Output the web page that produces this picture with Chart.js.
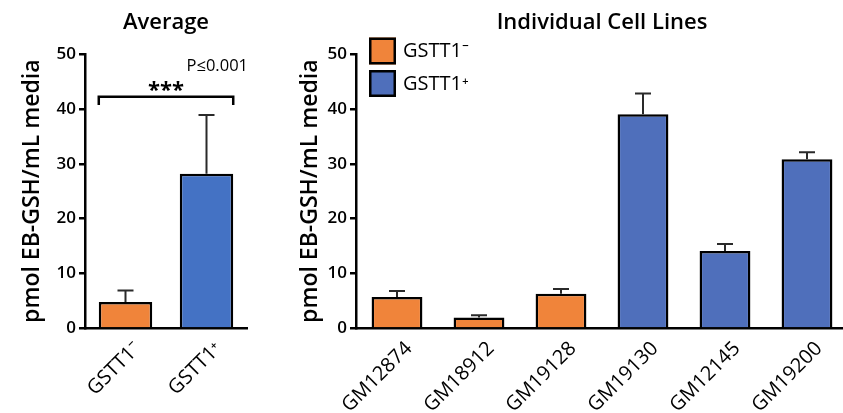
<!DOCTYPE html>
<html>
<head>
<meta charset="utf-8">
<script src="https://cdn.jsdelivr.net/npm/chart.js@4.4.1/dist/chart.umd.min.js"></script>
<style>
  html, body { margin: 0; padding: 0; background: #fff; }
  body { width: 843px; height: 413px; overflow: hidden; position: relative; }
  #avgChart { position: absolute; left: 0; top: 0; }
  #cellChart { position: absolute; left: 280px; top: 0; }
</style>
</head>
<body>
<canvas id="avgChart" width="250" height="413"></canvas>
<canvas id="cellChart" width="570" height="413"></canvas>
<script>
// --- data ---
const groupLabels = ["GSTT1\u207B", "GSTT1\u207A"];
const avgMeans = [4.8, 28.2];
const avgErrors = [2.1, 10.7];

const cellLines = ["GM12874", "GM18912", "GM19128", "GM19130", "GM12145", "GM19200"];
const negMeans = [5.7, 2.0, 6.3, null, null, null];
const negErrors = [1.1, 0.4, 0.9, null, null, null];
const posMeans = [null, null, null, 39.0, 14.1, 30.8];
const posErrors = [null, null, null, 3.8, 1.3, 1.3];

const yMax = 50;
const yStep = 10;
const bracketLevel = 42.2;
const pText = "P\u22640.001";
const starsText = "***";

const orange = "#f0843a";
const blueAvg = "#4472c4";
const blueCells = "#4f6fbb";

const fontFamily = "'Open Sans', 'Noto Sans', sans-serif";
Chart.defaults.font.family = fontFamily;
Chart.defaults.color = "#000";

// error bars, drawn upward from each bar
const errorBars = {
  id: "errorBars",
  afterDatasetsDraw(chart) {
    const ctx = chart.ctx;
    const y = chart.scales.y;
    ctx.save();
    ctx.strokeStyle = "#2a2a2a";
    ctx.lineWidth = 2;
    chart.data.datasets.forEach((ds, i) => {
      const meta = chart.getDatasetMeta(i);
      meta.data.forEach((bar, j) => {
        const v = ds.data[j], e = ds.errors[j];
        if (v == null || e == null) return;
        const top = y.getPixelForValue(v + e);
        ctx.beginPath();
        ctx.moveTo(bar.x, bar.y);
        ctx.lineTo(bar.x, top);
        ctx.moveTo(bar.x - 8, top);
        ctx.lineTo(bar.x + 8, top);
        ctx.stroke();
      });
    });
    ctx.restore();
  }
};

// 45 degree category labels under the x axis
const slantedLabels = {
  id: "slantedLabels",
  afterDraw(chart) {
    const ctx = chart.ctx;
    const x = chart.scales.x;
    ctx.save();
    ctx.fillStyle = "#000";
    ctx.font = "500 20px " + fontFamily;
    ctx.textAlign = "right";
    ctx.textBaseline = "middle";
    chart.data.labels.forEach((lab, i) => {
      ctx.save();
      ctx.translate(x.getPixelForTick(i) + 12, x.top + 17);
      ctx.rotate(-Math.PI / 4);
      ctx.fillText(lab, 0, 0);
      ctx.restore();
    });
    ctx.restore();
  }
};

// bracket + stars + p value for the average panel
const significance = {
  id: "significance",
  afterDraw(chart) {
    const ctx = chart.ctx;
    const y = chart.scales.y;
    const bars = chart.getDatasetMeta(0).data;
    const x0 = bars[0].x - bars[0].width / 2;
    const x1 = bars[1].x + bars[1].width / 2;
    const yb = y.getPixelForValue(bracketLevel);
    const yd = y.getPixelForValue(bracketLevel - 1.5);
    ctx.save();
    ctx.strokeStyle = "#000";
    ctx.lineWidth = 2.5;
    ctx.beginPath();
    ctx.moveTo(x0, yd);
    ctx.lineTo(x0, yb);
    ctx.lineTo(x1, yb);
    ctx.lineTo(x1, yd);
    ctx.stroke();
    ctx.fillStyle = "#000";
    ctx.textAlign = "center";
    ctx.textBaseline = "alphabetic";
    ctx.font = "700 22px " + fontFamily;
    ctx.fillText(starsText, (x0 + x1) / 2, yb);
    ctx.textAlign = "right";
    ctx.textBaseline = "middle";
    ctx.font = "500 16.5px " + fontFamily;
    ctx.fillText(pText, chart.chartArea.right + 1, y.getPixelForValue(47.8));
    ctx.restore();
  }
};

// boxed legend inside the cell line panel
const boxLegend = {
  id: "boxLegend",
  afterDraw(chart) {
    const ctx = chart.ctx;
    const area = chart.chartArea;
    ctx.save();
    chart.data.datasets.forEach((ds, i) => {
      const bx = area.left + 13;
      const by = area.top - 16.5 + i * 32.5;
      ctx.fillStyle = ds.backgroundColor;
      ctx.fillRect(bx, by, 27, 27);
      ctx.strokeStyle = "#000";
      ctx.lineWidth = 2.5;
      ctx.strokeRect(bx + 1.25, by + 1.25, 24.5, 24.5);
      ctx.fillStyle = "#000";
      ctx.textAlign = "left";
      ctx.textBaseline = "middle";
      ctx.font = "500 20px " + fontFamily;
      ctx.fillText(ds.label, bx + 34, by + 14);
    });
    ctx.restore();
  }
};

function yAxis(width, titlePad) {
  return {
    min: 0,
    max: yMax,
    ticks: { stepSize: yStep, padding: 3, font: { size: 17, weight: "600" } },
    grid: { drawOnChartArea: false, drawTicks: true, tickLength: 6, color: "#000", lineWidth: 2.5 },
    border: { display: true, color: "#000", width: 2.5 },
    title: {
      display: true,
      text: "pmol EB-GSH/mL media",
      font: { size: 23, weight: "600" },
      padding: { top: titlePad, bottom: 0 }
    },
    afterFit: s => { s.width = width; }
  };
}

function xAxis() {
  return {
    grid: { display: false, drawTicks: false, tickLength: 0 },
    border: { display: true, color: "#000", width: 2.5 },
    ticks: { display: false, autoSkip: false },
    afterFit: s => { s.height = 84.6; }
  };
}

function titleOpts(text) {
  return {
    display: true,
    text: text,
    fullSize: false,
    color: "#000",
    font: { size: 22, weight: "600" },
    padding: { top: 10, bottom: 17.6 }
  };
}

new Chart(document.getElementById("avgChart"), {
  type: "bar",
  data: {
    labels: groupLabels,
    datasets: [{
      label: "Average",
      data: avgMeans,
      errors: avgErrors,
      backgroundColor: [orange, blueAvg],
      borderColor: "#000",
      borderWidth: 2.5,
      barPercentage: 0.66,
      categoryPercentage: 1
    }]
  },
  options: {
    responsive: false,
    animation: false,
    layout: { padding: { left: 0, right: 3, top: 0, bottom: 0 } },
    plugins: { legend: { display: false }, tooltip: { enabled: false }, title: titleOpts("Average") },
    scales: { x: xAxis(), y: yAxis(85, 19) }
  },
  plugins: [errorBars, significance, slantedLabels]
});

new Chart(document.getElementById("cellChart"), {
  type: "bar",
  data: {
    labels: cellLines,
    datasets: [
      {
        label: groupLabels[0],
        data: negMeans,
        errors: negErrors,
        backgroundColor: orange,
        borderColor: "#000",
        borderWidth: 2.5,
        barPercentage: 0.62,
        categoryPercentage: 1,
        skipNull: true
      },
      {
        label: groupLabels[1],
        data: posMeans,
        errors: posErrors,
        backgroundColor: blueCells,
        borderColor: "#000",
        borderWidth: 2.5,
        barPercentage: 0.62,
        categoryPercentage: 1,
        skipNull: true
      }
    ]
  },
  options: {
    responsive: false,
    animation: false,
    layout: { padding: { left: 0, right: 2, top: 0, bottom: 0 } },
    plugins: { legend: { display: false }, tooltip: { enabled: false }, title: titleOpts("Individual Cell Lines") },
    scales: { x: xAxis(), y: yAxis(76, 17) }
  },
  plugins: [errorBars, boxLegend, slantedLabels]
});
</script>
</body>
</html>
